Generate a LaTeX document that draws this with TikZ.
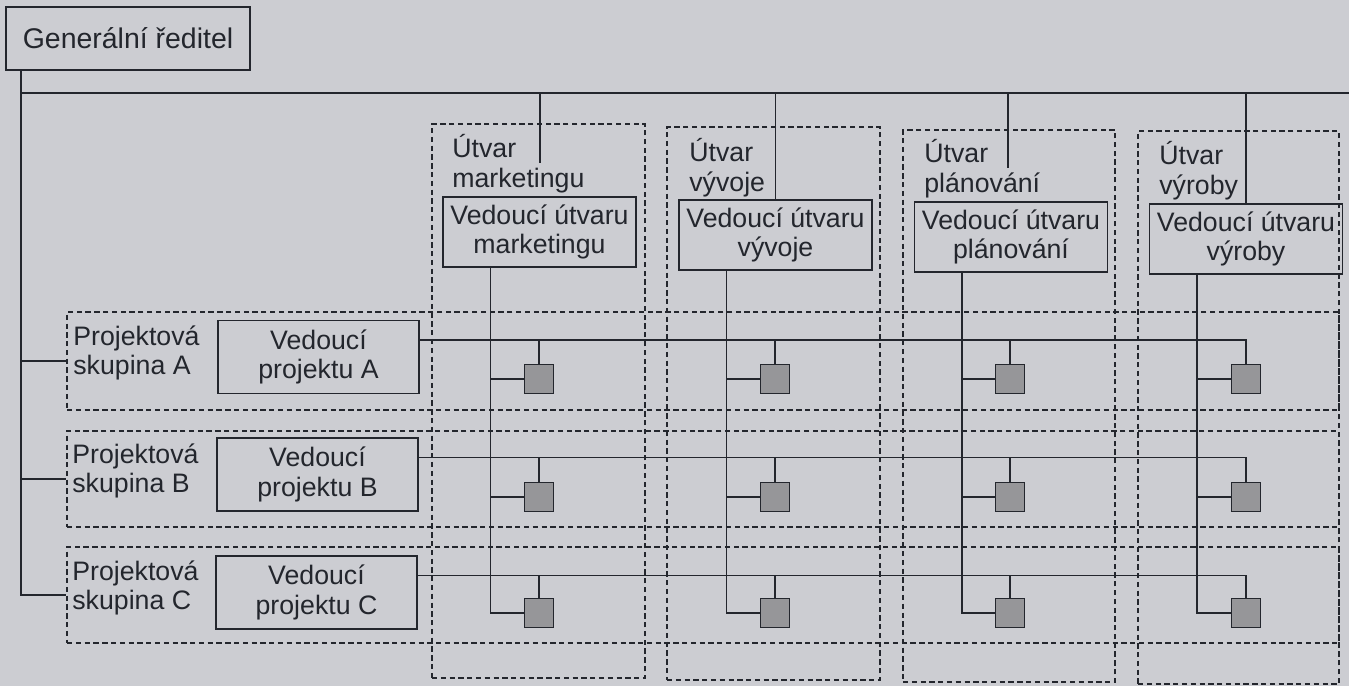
\documentclass[tikz,border=0pt]{standalone}
\usepackage{fontspec}
\setmainfont{Liberation Sans}
\usepackage{xcolor}
\usetikzlibrary{positioning,calc}
\definecolor{paper}{RGB}{204,205,210}
\definecolor{ink}{RGB}{35,38,45}
\definecolor{cell}{RGB}{150,150,153}

\begin{document}
\begin{tikzpicture}[
    x=0.02cm, y=-0.02cm,
    every node/.style={font=\fontsize{15.2}{17}\selectfont, text=ink},
    headbox/.style={draw=ink, line width=1.1pt, minimum width=3.86cm, minimum height=1.4cm, align=center, inner sep=0pt},
    unitbox/.style={draw=ink, line width=1pt, dash pattern=on 3pt off 2pt, inner sep=0pt},
    tag/.style={anchor=north west, align=left, inner sep=0pt},
    member/.style={draw=ink, line width=1.1pt, fill=cell, minimum size=0.58cm, inner sep=0pt},
    link/.style={draw=ink, line width=1.1pt}
  ]
    \useasboundingbox (0,0) rectangle (1349,686);
    \fill[paper] (0,0) rectangle (1349,686);

    % dashed units (columns) and project groups (rows)
    \node[unitbox, minimum width=4.26cm, minimum height=11.08cm] (utvM) at (538.5,401) {};
    \node[unitbox, minimum width=4.26cm, minimum height=11.06cm] (utvV) at (773.5,403.5) {};
    \node[unitbox, minimum width=4.24cm, minimum height=11.04cm] (utvP) at (1009,406) {};
    \node[unitbox, minimum width=4.02cm, minimum height=11.06cm] (utvY) at (1238.5,407.5) {};
    \node[unitbox, minimum width=25.44cm, minimum height=1.96cm] (grpA) at (703,361) {};
    \node[unitbox, minimum width=25.44cm, minimum height=1.92cm] (grpB) at (703,479) {};
    \node[unitbox, minimum width=25.44cm, minimum height=1.92cm] (grpC) at (703,595) {};

    \node[tag] (tagM) at (452,134) {Útvar\\marketingu};
    \node[tag] (tagV) at (689,138) {Útvar\\vývoje};
    \node[tag] (tagP) at (924,139) {Útvar\\plánování};
    \node[tag] (tagY) at (1159,141) {Útvar\\výroby};
    \node[tag] (tagA) at (73,325) {Projektová\\skupina A};
    \node[tag] (tagB) at (72,443) {Projektová\\skupina B};
    \node[tag] (tagC) at (72,560) {Projektová\\skupina C};

    % boxes
    \node[headbox, minimum width=4.88cm, minimum height=1.26cm, font=\fontsize{16.2}{18}\selectfont] (gr) at (128,38.5) {Generální ředitel};
    \node[headbox] (headM) at (539.5,232) {Vedoucí útvaru\\marketingu};
    \node[headbox] (headV) at (775.5,235) {Vedoucí útvaru\\vývoje};
    \node[headbox] (headP) at (1011,237) {Vedoucí útvaru\\plánování};
    \node[headbox] (headY) at (1246,239) {Vedoucí útvaru\\výroby};
    \node[headbox, minimum width=4.02cm, minimum height=1.46cm] (ledA) at (318.5,357) {Vedoucí\\projektu A};
    \node[headbox, minimum width=4.02cm, minimum height=1.46cm] (ledB) at (317.5,474.5) {Vedoucí\\projektu B};
    \node[headbox, minimum width=4.02cm, minimum height=1.46cm] (ledC) at (316.5,592.5) {Vedoucí\\projektu C};

    % general manager
    \coordinate (trunk) at ([xshift=0.32cm]gr.south west);
    \coordinate (topR) at (1349,93);
    \draw[link] (trunk) |- (grpC.west);
    \draw[link] (trunk |- grpA.west) -- (grpA.west);
    \draw[link] (trunk |- grpB.west) -- (grpB.west);
    \draw[link] (trunk |- topR) -- (topR);

    \coordinate (tipM) at (540,163);
    \coordinate (tipP) at (1008,168);
    \draw[link] (tipM |- topR) -- (tipM);
    \draw[link] (headV.north |- topR) -- (headV.north);
    \draw[link] (tipP |- topR) -- (tipP);
    \draw[link] (headY.north |- topR) -- (headY.north);

    % team members
    \node[member] (mA) at (539,379) {};
    \node[member] (vA) at (775,379) {};
    \node[member] (pA) at (1010,379) {};
    \node[member] (yA) at (1246,379) {};
    \node[member] (mB) at (539,497) {};
    \node[member] (vB) at (775,497) {};
    \node[member] (pB) at (1010,497) {};
    \node[member] (yB) at (1246,497) {};
    \node[member] (mC) at (539,613) {};
    \node[member] (vC) at (775,613) {};
    \node[member] (pC) at (1010,613) {};
    \node[member] (yC) at (1246,613) {};

    % unit lines
    \coordinate (colM) at ([xshift=-0.98cm]headM.south);
    \coordinate (colV) at ([xshift=-0.98cm]headV.south);
    \coordinate (colP) at ([xshift=-0.98cm]headP.south);
    \coordinate (colY) at ([xshift=-0.98cm]headY.south);
    \draw[link] (colM) |- (mC.west);
    \draw[link] (colM |- mA.west) -- (mA.west);
    \draw[link] (colM |- mB.west) -- (mB.west);
    \draw[link] (colV) |- (vC.west);
    \draw[link] (colV |- vA.west) -- (vA.west);
    \draw[link] (colV |- vB.west) -- (vB.west);
    \draw[link] (colP) |- (pC.west);
    \draw[link] (colP |- pA.west) -- (pA.west);
    \draw[link] (colP |- pB.west) -- (pB.west);
    \draw[link] (colY) |- (yC.west);
    \draw[link] (colY |- yA.west) -- (yA.west);
    \draw[link] (colY |- yB.west) -- (yB.west);

    % project lines
    \coordinate (rowA) at ([yshift=0.34cm]ledA.east);
    \coordinate (rowB) at ([yshift=0.34cm]ledB.east);
    \coordinate (rowC) at ([yshift=0.34cm]ledC.east);
    \draw[link] (rowA) -| (yA.north);
    \draw[link] (mA.north |- rowA) -- (mA.north);
    \draw[link] (vA.north |- rowA) -- (vA.north);
    \draw[link] (pA.north |- rowA) -- (pA.north);
    \draw[link] (rowB) -| (yB.north);
    \draw[link] (mB.north |- rowB) -- (mB.north);
    \draw[link] (vB.north |- rowB) -- (vB.north);
    \draw[link] (pB.north |- rowB) -- (pB.north);
    \draw[link] (rowC) -| (yC.north);
    \draw[link] (mC.north |- rowC) -- (mC.north);
    \draw[link] (vC.north |- rowC) -- (vC.north);
    \draw[link] (pC.north |- rowC) -- (pC.north);
\end{tikzpicture}
\end{document}
